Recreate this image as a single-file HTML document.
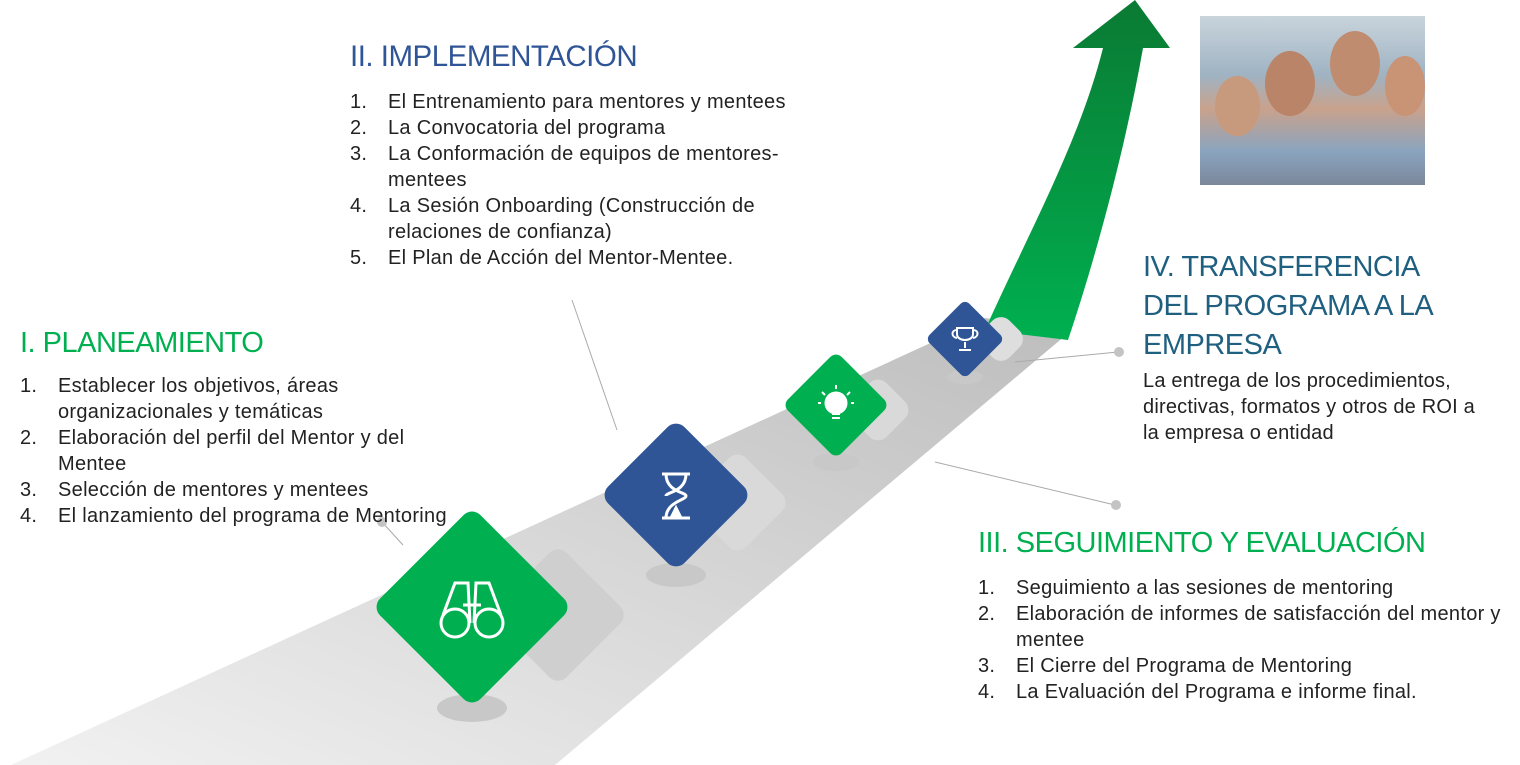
<!DOCTYPE html>
<html><head><meta charset="utf-8"><style>
*{margin:0;padding:0;box-sizing:border-box}
body{width:1520px;height:765px;background:#fff;position:relative;overflow:hidden;font-family:"Liberation Sans",sans-serif;color:#222}
.t{position:absolute;white-space:nowrap}
h2{position:absolute;font-weight:normal;font-size:29px;white-space:nowrap;letter-spacing:-0.5px}
ol{position:absolute;list-style:none;font-size:20px;line-height:26px;letter-spacing:0.3px}
ol li{padding-left:38px;position:relative;white-space:nowrap}
ol li span{position:absolute;left:0}
.d{position:absolute;transform:rotate(45deg);border-radius:12px}
</style></head><body>
<svg width="1520" height="765" style="position:absolute;left:0;top:0">
<defs>
<linearGradient id="rd" x1="0" y1="1" x2="1" y2="0"><stop offset="0" stop-color="#f2f2f2"/><stop offset="0.5" stop-color="#d8d8d8"/><stop offset="1" stop-color="#bdbdbd"/></linearGradient>
<linearGradient id="ar" x1="0" y1="1" x2="0" y2="0"><stop offset="0" stop-color="#00b050"/><stop offset="1" stop-color="#0a7a33"/></linearGradient>
</defs>
<polygon points="0,770 985,318 1072,330 555,765" fill="url(#rd)"/>
<path d="M985,330 C1030,230 1080,140 1103,48 L1073,48 L1135,0 L1170,48 L1143,48 C1125,150 1095,260 1068,340 Z" fill="url(#ar)"/>
<g stroke="#aaa" stroke-width="1" fill="none">
<line x1="572" y1="300" x2="617" y2="430"/>
<line x1="382" y1="522" x2="403" y2="545"/>
<line x1="935" y1="462" x2="1115" y2="505"/>
<line x1="1015" y1="362" x2="1118" y2="352"/>
</g>
<g fill="#c4c4c4"><circle cx="382" cy="522" r="5"/><circle cx="1116" cy="505" r="5"/><circle cx="1119" cy="352" r="5"/></g>
<g fill="#c8c8c8">
<ellipse cx="472" cy="708" rx="35" ry="14"/><ellipse cx="676" cy="575" rx="30" ry="12"/><ellipse cx="836" cy="462" rx="23" ry="9"/><ellipse cx="965" cy="377" rx="18" ry="7"/>
</g>
</svg>
<div class="d" style="left:508px;top:565px;width:100px;height:100px;background:#cfcfcf"></div>
<div class="d" style="left:700px;top:465px;width:75px;height:75px;background:#d9d9d9"></div>
<div class="d" style="left:853px;top:385px;width:50px;height:50px;background:#d9d9d9"></div>
<div class="d" style="left:982px;top:320px;width:38px;height:38px;background:#dedede"></div>
<div class="d" style="left:401px;top:536px;width:142px;height:142px;background:#00b050"></div>
<div class="d" style="left:622px;top:441px;width:108px;height:108px;background:#2f5597"></div>
<div class="d" style="left:798px;top:367px;width:76px;height:76px;background:#00b050;border-radius:8px"></div>
<div class="d" style="left:937px;top:311px;width:56px;height:56px;background:#2f5597;border-radius:6px"></div>
<svg width="1520" height="765" style="position:absolute;left:0;top:0" fill="none" stroke="#fff" stroke-width="3">
<circle cx="455" cy="623" r="14"/><circle cx="489" cy="623" r="14"/>
<path d="M443,615 L455,583 L468,583 L470,623 M501,615 L489,583 L476,583 L474,623 M463,605 L481,605"/>
<path d="M662,474 H690 M662,518 H690 M666,474 C666,492 686,492 686,496 C686,500 666,502 666,518 M686,474 C686,492 666,492 666,496"/>
<path d="M672,516 L676,508 L680,516 Z" fill="#fff"/>
<circle cx="836" cy="403" r="10" fill="#fff"/><path d="M832,414 h8 M832,418 h8 M836,385 v4 M822,392 l3,3 M850,392 l-3,3 M818,403 h3 M851,403 h3" stroke-width="2"/>
<path d="M957,328 h16 v6 c0,8 -16,8 -16,0 z M965,342 v6 M959,350 h12 M957,330 c-6,0 -6,7 0,8 M973,330 c6,0 6,7 0,8" stroke-width="2"/>
</svg>
<div style="position:absolute;left:1200px;top:16px;width:225px;height:169px;background:linear-gradient(180deg,#c9d4dc 0%,#9fb3c3 35%,#c9a28c 55%,#8aa4bf 80%,#7b879a 100%)">
<div style="position:absolute;left:15px;top:60px;width:45px;height:60px;border-radius:50%;background:#c79a7e"></div>
<div style="position:absolute;left:65px;top:35px;width:50px;height:65px;border-radius:50%;background:#b98468"></div>
<div style="position:absolute;left:130px;top:15px;width:50px;height:65px;border-radius:50%;background:#c08c70"></div>
<div style="position:absolute;left:185px;top:40px;width:40px;height:60px;border-radius:50%;background:#c99476"></div>
</div>
<h2 style="left:350px;top:40px;color:#2f5597;font-size:29.5px">II. IMPLEMENTACIÓN</h2>
<ol style="left:350px;top:89px">
<li><span>1.</span>El Entrenamiento para mentores y mentees</li>
<li><span>2.</span>La Convocatoria del programa</li>
<li><span>3.</span>La Conformación de equipos de mentores-<br>mentees</li>
<li><span>4.</span>La Sesión Onboarding (Construcción de<br>relaciones de confianza)</li>
<li><span>5.</span>El Plan de Acción del Mentor-Mentee.</li>
</ol>
<h2 style="left:20px;top:327px;color:#00b050">I. PLANEAMIENTO</h2>
<ol style="left:20px;top:373px">
<li><span>1.</span>Establecer los objetivos, áreas<br>organizacionales y temáticas</li>
<li><span>2.</span>Elaboración del perfil del Mentor y del<br>Mentee</li>
<li><span>3.</span>Selección de mentores y mentees</li>
<li><span>4.</span>El lanzamiento del programa de Mentoring</li>
</ol>
<h2 style="left:1143px;top:248px;color:#1f5f80;line-height:39px">IV. TRANSFERENCIA<br>DEL PROGRAMA A LA<br>EMPRESA</h2>
<div class="t" style="left:1143px;top:368px;font-size:20px;line-height:26px;letter-spacing:0.2px">La entrega de los procedimientos,<br>directivas, formatos y otros de ROI a<br>la empresa o entidad</div>
<h2 style="left:978px;top:527px;color:#00b050">III. SEGUIMIENTO Y EVALUACIÓN</h2>
<ol style="left:978px;top:575px">
<li><span>1.</span>Seguimiento a las sesiones de mentoring</li>
<li><span>2.</span>Elaboración de informes de satisfacción del mentor y<br>mentee</li>
<li><span>3.</span>El Cierre del Programa de Mentoring</li>
<li><span>4.</span>La Evaluación del Programa e informe final.</li>
</ol>
</body></html>
